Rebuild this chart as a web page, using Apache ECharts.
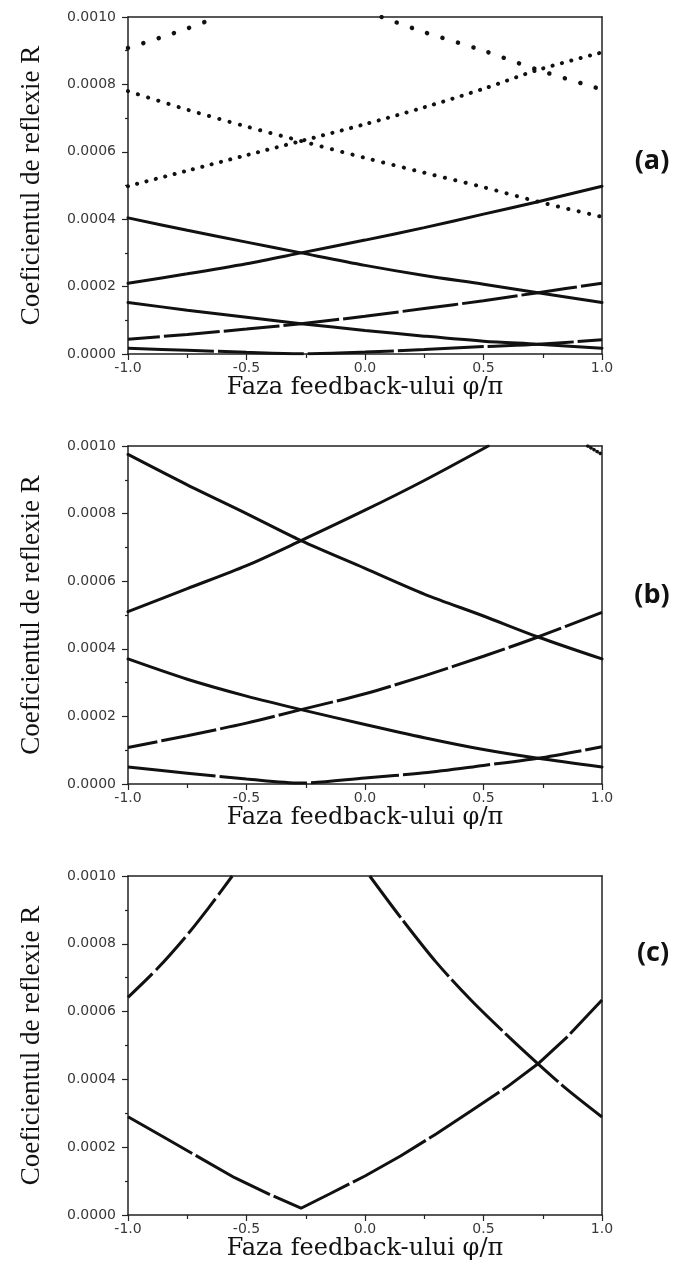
<!DOCTYPE html>
<html>
<head>
<meta charset="utf-8">
<script src="https://cdn.jsdelivr.net/npm/echarts@6/dist/echarts.min.js"></script>
<style>
  html, body { margin: 0; padding: 0; background: #ffffff; }
  #chart { width: 684px; height: 1265px; }
</style>
</head>
<body>
<div id="chart"></div>
<script>
// Reflection coefficient R versus feedback phase φ/π, three configurations (a), (b), (c).

// Common phase grid (φ/π)
const phi = [-1, -0.75, -0.5, -0.27, 0, 0.25, 0.5, 0.73, 1];

// Axis ticks
const xTicks = [-1.0, -0.5, 0.0, 0.5, 1.0];
const yTicks = [0, 0.0002, 0.0004, 0.0006, 0.0008, 0.0010];
const panelTags = ['(a)', '(b)', '(c)'];

// ---- Panel (a) ----
const aTopRisePhi = [-1, -0.85, -0.75, -0.62];
const aTopRise    = [9.08e-4, 9.42e-4, 9.66e-4, 10.0e-4];
const aTopFallPhi = [0.07, 0.25, 0.5, 0.73, 1];
const aTopFall    = [10.0e-4, 9.55e-4, 9.0e-4, 8.43e-4, 7.85e-4];
const aMidRise    = [4.98e-4, 5.44e-4, 5.90e-4, 6.32e-4, 6.82e-4, 7.32e-4, 7.87e-4, 8.43e-4, 8.95e-4];
const aMidFall    = [7.80e-4, 7.25e-4, 6.75e-4, 6.32e-4, 5.82e-4, 5.38e-4, 4.95e-4, 4.52e-4, 4.07e-4];
const aLine1      = [4.04e-4, 3.67e-4, 3.32e-4, 3.00e-4, 2.63e-4, 2.33e-4, 2.07e-4, 1.82e-4, 1.53e-4];
const aLine2      = [2.10e-4, 2.38e-4, 2.68e-4, 3.00e-4, 3.38e-4, 3.75e-4, 4.15e-4, 4.52e-4, 4.98e-4];
const aLine3      = [1.53e-4, 1.30e-4, 1.09e-4, 0.90e-4, 0.70e-4, 0.53e-4, 0.38e-4, 0.29e-4, 0.17e-4];
const aLine4      = [0.44e-4, 0.58e-4, 0.74e-4, 0.90e-4, 1.12e-4, 1.35e-4, 1.58e-4, 1.82e-4, 2.10e-4];
const aLine5      = [0.17e-4, 0.11e-4, 0.05e-4, 0.01e-4, 0.06e-4, 0.13e-4, 0.22e-4, 0.29e-4, 0.42e-4];

// ---- Panel (b) ----
const bCornerPhi  = [0.94, 1];
const bCorner     = [10.0e-4, 9.75e-4];
const bFall1      = [9.75e-4, 8.85e-4, 8.00e-4, 7.20e-4, 6.38e-4, 5.62e-4, 4.97e-4, 4.35e-4, 3.70e-4];
const bRise1Phi   = [-1, -0.75, -0.5, -0.27, 0, 0.25, 0.52];
const bRise1      = [5.10e-4, 5.78e-4, 6.46e-4, 7.20e-4, 8.10e-4, 8.98e-4, 10.0e-4];
const bFall2      = [3.70e-4, 3.10e-4, 2.60e-4, 2.20e-4, 1.76e-4, 1.37e-4, 1.02e-4, 0.76e-4, 0.50e-4];
const bRise2      = [1.08e-4, 1.43e-4, 1.80e-4, 2.20e-4, 2.67e-4, 3.20e-4, 3.78e-4, 4.35e-4, 5.08e-4];
const bBottom     = [0.50e-4, 0.32e-4, 0.15e-4, 0.03e-4, 0.18e-4, 0.33e-4, 0.55e-4, 0.76e-4, 1.10e-4];

// ---- Panel (c) ----
const cRisePhi    = [-1, -0.88, -0.76, -0.66, -0.56];
const cRise       = [6.42e-4, 7.24e-4, 8.18e-4, 9.06e-4, 10.0e-4];
const cFallPhi    = [0.02, 0.15, 0.3, 0.45, 0.6, 0.73, 0.85, 1];
const cFall       = [10.0e-4, 8.78e-4, 7.46e-4, 6.32e-4, 5.30e-4, 4.46e-4, 3.72e-4, 2.89e-4];
const cVPhi       = [-1, -0.85, -0.7, -0.55, -0.4, -0.27, -0.15, 0, 0.15, 0.3, 0.45, 0.6, 0.73, 0.85, 1];
const cV          = [2.9e-4, 2.3e-4, 1.7e-4, 1.1e-4, 0.6e-4, 0.2e-4, 0.62e-4, 1.15e-4, 1.74e-4, 2.39e-4, 3.08e-4, 3.78e-4, 4.46e-4, 5.23e-4, 6.34e-4];

const pairs = (xs, ys) => xs.map((x, i) => [x, ys[i]]);

// Line looks
const INK = '#111111';
const solid  = { color: INK, width: 3, type: 'solid', cap: 'round' };
const broken = (dash, gap, offset) => ({ color: INK, width: 3, type: [dash, gap], dashOffset: offset || 0, cap: 'butt' });
const dots   = (gap, size) => ({ color: INK, width: size, type: [0.1, gap], cap: 'round' });

const grids = [
  { left: 128, right: 82, top: 17,  height: 337 },
  { left: 128, right: 82, top: 446, height: 338 },
  { left: 128, right: 82, top: 876, height: 339 }
];

const AXIS_COLOR = '#222222';
const LABEL_COLOR = '#383838';
const xTitleGaps = [21, 21, 18];

const xAxes = [];
const yAxes = [];
grids.forEach((g, i) => {
  xAxes.push({
    type: 'value', gridIndex: i, position: 'bottom',
    min: xTicks[0], max: xTicks[xTicks.length - 1], interval: 0.5,
    axisLine: { show: true, onZero: false, lineStyle: { color: AXIS_COLOR, width: 1.5 } },
    axisTick: { show: true, length: 6, lineStyle: { color: AXIS_COLOR, width: 1.2 } },
    minorTick: { show: true, splitNumber: 2, length: 4, lineStyle: { color: AXIS_COLOR, width: 1.2 } },
    splitLine: { show: false },
    axisLabel: {
      fontFamily: 'DejaVu Sans', fontSize: 14, color: LABEL_COLOR, margin: 7,
      formatter: v => v.toFixed(1)
    },
    name: 'Faza feedback-ului φ/π',
    nameLocation: 'middle',
    nameGap: xTitleGaps[i],
    nameTextStyle: { fontFamily: 'DejaVu Serif', fontSize: 24, color: INK }
  });
  xAxes.push({
    type: 'value', gridIndex: i, position: 'top',
    min: -1, max: 1,
    axisLine: { show: true, onZero: false, lineStyle: { color: AXIS_COLOR, width: 1.5 } },
    axisTick: { show: false }, axisLabel: { show: false }, splitLine: { show: false }
  });
  yAxes.push({
    type: 'value', gridIndex: i, position: 'left',
    min: yTicks[0], max: yTicks[yTicks.length - 1], interval: 0.0002,
    axisLine: { show: true, onZero: false, lineStyle: { color: AXIS_COLOR, width: 1.5 } },
    axisTick: { show: true, length: 6, lineStyle: { color: AXIS_COLOR, width: 1.2 } },
    minorTick: { show: true, splitNumber: 2, length: 3, lineStyle: { color: AXIS_COLOR, width: 1.2 } },
    splitLine: { show: false },
    axisLabel: {
      fontFamily: 'DejaVu Sans', fontSize: 14, color: LABEL_COLOR, margin: 12,
      formatter: v => v.toFixed(4)
    },
    name: 'Coeficientul de reflexie R',
    nameLocation: 'middle',
    nameRotate: 90,
    nameGap: 83,
    nameTextStyle: { fontFamily: 'Liberation Serif', fontSize: 27, color: INK }
  });
  yAxes.push({
    type: 'value', gridIndex: i, position: 'right',
    min: 0, max: 0.001,
    axisLine: { show: true, onZero: false, lineStyle: { color: AXIS_COLOR, width: 1.5 } },
    axisTick: { show: false }, axisLabel: { show: false }, splitLine: { show: false }
  });
});

function curve(panel, xs, ys, style, smooth) {
  return {
    type: 'line',
    xAxisIndex: panel * 2,
    yAxisIndex: panel * 2,
    data: pairs(xs, ys),
    symbol: 'none',
    showSymbol: false,
    smooth: smooth === undefined ? 0.3 : smooth,
    clip: true,
    silent: true,
    lineStyle: style
  };
}

const series = [
  // (a)
  curve(0, aTopRisePhi, aTopRise, dots(16, 4.5)),
  curve(0, aTopFallPhi, aTopFall, dots(16, 4.5)),
  curve(0, phi, aMidRise, dots(9.5, 4)),
  curve(0, phi, aMidFall, dots(10.5, 4)),
  curve(0, phi, aLine1, solid),
  curve(0, phi, aLine2, solid),
  curve(0, phi, aLine3, solid),
  curve(0, phi, aLine4, broken(56, 4, 24)),
  curve(0, phi, aLine5, broken(86, 4, 0)),
  // (b)
  curve(1, bCornerPhi, bCorner, dots(3.5, 3.5), false),
  curve(1, phi, bFall1, solid),
  curve(1, bRise1Phi, bRise1, solid),
  curve(1, phi, bFall2, solid),
  curve(1, phi, bRise2, broken(56, 4, 26)),
  curve(1, phi, bBottom, broken(88, 4, 0)),
  // (c)
  curve(2, cRisePhi, cRise, broken(44, 5, 10)),
  curve(2, cFallPhi, cFall, broken(72, 4, 20)),
  curve(2, cVPhi, cV, broken(84, 4, 10), false)
];

const tagCenters = [[652, 161], [652, 595], [653, 953]];
const graphic = panelTags.map((t, i) => ({
  type: 'text',
  x: tagCenters[i][0],
  y: tagCenters[i][1],
  silent: true,
  style: {
    text: t,
    fontFamily: 'Open Sans',
    fontWeight: 'bold',
    fontSize: 27,
    fill: INK,
    align: 'center',
    verticalAlign: 'middle'
  }
}));

const chart = echarts.init(document.getElementById('chart'), null, { renderer: 'canvas' });
chart.setOption({
  animation: false,
  backgroundColor: '#ffffff',
  grid: grids,
  xAxis: xAxes,
  yAxis: yAxes,
  series: series,
  graphic: graphic
});
</script>
</body>
</html>
